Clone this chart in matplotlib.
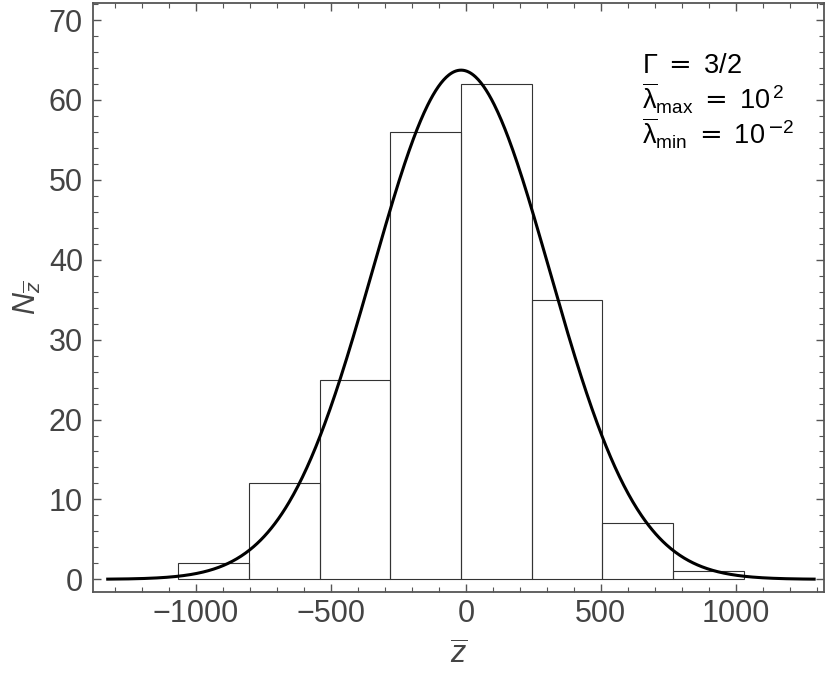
import numpy as np
import matplotlib
matplotlib.use("Agg")
import matplotlib.pyplot as plt
from matplotlib.ticker import MultipleLocator

plt.rcParams['font.family'] = ['Liberation Sans', 'DejaVu Sans']
plt.rcParams['mathtext.fontset'] = 'custom'
plt.rcParams['mathtext.rm'] = 'Liberation Sans'
plt.rcParams['mathtext.it'] = 'Liberation Sans:italic'
plt.rcParams['mathtext.bf'] = 'Liberation Sans:bold'
plt.rcParams['mathtext.sf'] = 'DejaVu Sans'

# Data
bin_edges = [-1066, -804, -542, -280, -18, 244, 506, 768, 1030]
counts = [2, 12, 25, 56, 62, 35, 7, 1]
fit_mean = -18.0
fit_sigma = 328.0
curve_range = (-1333, 1296)
xticks = [-1000, -500, 0, 500, 1000]
xtick_labels = ['\u22121000', '\u2212500', '0', '500', '1000']
yticks = [0, 10, 20, 30, 40, 50, 60, 70]

W, H = 830, 685
fig = plt.figure(figsize=(W / 100, H / 100), dpi=100)
ax = fig.add_axes([92.7 / W, 1 - 591.7 / H, (824.3 - 92.7) / W, (591.7 - 3.3) / H])

frame_col = '#555555'
text_col = '#444444'

# histogram
ax.bar(np.array(bin_edges[:-1]), counts, width=np.diff(bin_edges), align='edge',
       fill=False, edgecolor='#333333', linewidth=0.8)

# gaussian curve
n_total = sum(counts)
bw = np.mean(np.diff(bin_edges))
xs = np.linspace(curve_range[0], curve_range[1], 800)
ys = n_total * bw / (np.sqrt(2 * np.pi) * fit_sigma) * np.exp(-0.5 * ((xs - fit_mean) / fit_sigma) ** 2)
ax.plot(xs, ys, color='black', linewidth=2.2, solid_capstyle='butt')

ax.set_xlim(-1383, 1328)
ax.set_ylim(-1.55, 72.1)
ax.set_xticks(xticks)
ax.set_yticks(yticks)
ax.xaxis.set_minor_locator(MultipleLocator(100))
ax.yaxis.set_minor_locator(MultipleLocator(2))
ax.set_xticklabels(xtick_labels)

ax.tick_params(which='both', direction='in', top=True, right=True, colors=frame_col,
               labelcolor=text_col, labelsize=22)
ax.tick_params(which='major', length=6, width=1.0)
ax.tick_params(which='minor', length=3.5, width=0.8)
ax.tick_params(axis='x', pad=5)
ax.tick_params(axis='y', pad=7)
for s in ax.spines.values():
    s.set_color(frame_col)
    s.set_linewidth(1.3)

ax.set_xlabel(r'$\overline{z}$', fontsize=22, color=text_col, labelpad=9)
ax.set_ylabel(r'$N_{\overline{z}}$', fontsize=22, color=text_col, labelpad=4)

tx = (642 - 92.7) / 731.6
fs = 19.5
ax.text(tx, 0.881, r'$\mathrm{\Gamma}\ \mathsf{=}\ \mathrm{3/2}$', transform=ax.transAxes, fontsize=fs,
        color='black', va='baseline', ha='left')
ax.text(tx, 0.8195, r'$\overline{\mathrm{\lambda}}_{\mathrm{max}}\ \mathsf{=}\ \mathrm{10}^{\,\mathrm{2}}$',
        transform=ax.transAxes, fontsize=fs, color='black', va='baseline', ha='left')
ax.text(tx, 0.760, r'$\overline{\mathrm{\lambda}}_{\mathrm{min}}\ \mathsf{=}\ \mathrm{10}^{\,\mathsf{-}\mathrm{2}}$',
        transform=ax.transAxes, fontsize=fs, color='black', va='baseline', ha='left')

fig.savefig('out.png', dpi=100)
